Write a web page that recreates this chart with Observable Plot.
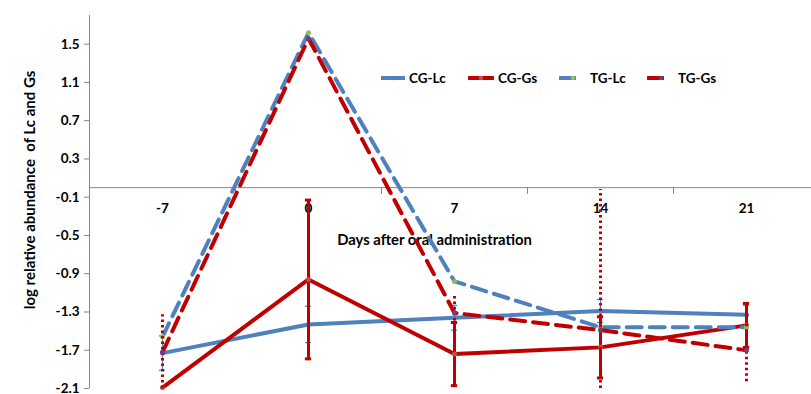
<!DOCTYPE html>
<html><head><meta charset="utf-8">
<script src="https://cdn.jsdelivr.net/npm/d3@7"></script>
<script src="https://cdn.jsdelivr.net/npm/@observablehq/plot@0.6"></script>
<style>
body{margin:0;background:#fff;}
#wrap{position:relative;width:811px;height:394px;font-family:Lato,"Open Sans",sans-serif;}
#wrap svg text{font-weight:bold;}
.leg{position:absolute;top:69px;height:18px;display:flex;align-items:center;font-size:13.5px;font-weight:bold;color:#000;font-family:Lato,"Open Sans",sans-serif;}
.leg svg{margin-right:4px;}
</style></head><body><div id="wrap"></div>
<script>
const days = [-7, 0, 7, 14, 21];
const xTickLabels = ["-7", "0", "7", "14", "21"];
const yTicks = [-2.1, -1.7, -1.3, -0.9, -0.5, -0.1, 0.3, 0.7, 1.1, 1.5];
const seriesNames = ["CG-Lc", "CG-Gs", "TG-Lc", "TG-Gs"];
const cgLc = [-1.73, -1.43, -1.36, -1.29, -1.33];
const cgGs = [-2.09, -0.96, -1.74, -1.67, -1.44];
const tgLc = [-1.56, 1.62, -0.98, -1.46, -1.46];
const tgGs = [-1.72, 1.56, -1.31, -1.49, -1.70];
const cgLcErr = [0.18, 0.19, 0.13, 0.12, 0.10];
const cgGsErr = [0, 0.83, 0.33, 0.32, 0.23];
const tgLcErr = [0, 0, 0, 0, 0];
const tgGsErr = [0.39, 0, 0.20, 1.47, 0.33];

const values = [cgLc, cgGs, tgLc, tgGs];
const errs = [cgLcErr, cgGsErr, tgLcErr, tgGsErr];
const lineColor = ["#4F81BD", "#C00000", "#4F81BD", "#C00000"];
const markColor = ["#4F81BD", "#C0504D", "#9BBB59", "#7A3A7A"];
const dash = [null, null, "15,8", "15,8"];
const errDash = [null, null, null, "2.5,3"];
const yMin = -2.1, yMax = 1.8;
const step = days[1] - days[0];
const xMin = days[0] - step / 2, xMax = days[days.length - 1] + step / 2;
const bounds = d3.pairs(days).map(([a, b]) => (a + b) / 2);

const rows = seriesNames.map((s, k) => days.map((d, i) => ({series: s, k, day: d, value: values[k][i], err: errs[k][i]})));

const marks = [
  Plot.ruleY([0], {stroke: "#868686", strokeWidth: 1}),
  Plot.ruleX([xMin], {y1: yMin, y2: yMax, stroke: "#868686", strokeWidth: 1}),
  Plot.ruleX(bounds, {y1: 0, y2: -0.07, stroke: "#868686"}),
  Plot.axisY({ticks: yTicks, tickFormat: d => d.toFixed(1), tickSize: 5, tickPadding: 5, fontSize: 13.5, label: null, stroke: "#868686", fill: "#000"}),
  Plot.text(days, {x: d => d, y: () => 0, text: (d, i) => xTickLabels[i], dy: 21, fontSize: 13.5, fill: "#000"}),
  Plot.text(["Days after oral administration"], {frameAnchor: "top", dx: -16, dy: 219, fontSize: 14.8, fill: "#000"}),
  Plot.text(["log relative abundance  of Lc and Gs"], {frameAnchor: "left", textAnchor: "middle", rotate: -90, dx: -59, dy: -12, fontSize: 15, fill: "#000"})
];

rows.forEach((r, k) => {
  const withErr = r.filter(d => d.err > 0);
  const lo = d => Math.max(yMin, d.value - d.err);
  const hi = d => Math.min(yMax, d.value + d.err);
  marks.push(Plot.ruleX(withErr, {x: "day", y1: lo, y2: hi, stroke: lineColor[k], strokeWidth: k === 0 ? 1.2 : 3, strokeDasharray: errDash[k]}));
  if (!errDash[k]) {
    marks.push(Plot.ruleY(withErr, {y: lo, x1: d => d.day - 0.15, x2: d => d.day + 0.15, stroke: lineColor[k], strokeWidth: k === 0 ? 1.2 : 3}));
    marks.push(Plot.ruleY(withErr, {y: hi, x1: d => d.day - 0.15, x2: d => d.day + 0.15, stroke: lineColor[k], strokeWidth: k === 0 ? 1.2 : 3}));
  }
  marks.push(Plot.line(r, {x: "day", y: "value", stroke: lineColor[k], strokeWidth: 4, strokeDasharray: dash[k], strokeLinecap: "round", strokeLinejoin: "round"}));
  marks.push(Plot.dot(r, {x: "day", y: "value", r: 2.5, fill: markColor[k], stroke: null}));
});

const chart = Plot.plot({
  width: 811, height: 394,
  marginLeft: 89, marginRight: 0, marginTop: 15, marginBottom: 6,
  x: {domain: [xMin, xMax], range: [89, 819], axis: null},
  y: {domain: [yMin, yMax], axis: null},
  style: {fontFamily: "Lato, 'Open Sans', sans-serif", background: "#fff", overflow: "visible"},
  marks
});
const wrap = document.getElementById("wrap");
wrap.appendChild(chart);

// legend
const legPos = [381, 468, 559, 647];
const legLen = [22, 24, 15, 15];
seriesNames.forEach((s, k) => {
  const div = document.createElement("div");
  div.className = "leg";
  div.style.left = legPos[k] + "px";
  const L = legLen[k];
  div.innerHTML = `<svg width="${L + 2}" height="8"><line x1="1" x2="${L + 1}" y1="4" y2="4" stroke="${lineColor[k]}" stroke-width="4" stroke-linecap="round"/><circle cx="${L / 2 + 1 + (k >= 2 ? L / 2 - 2 : 0)}" cy="4" r="2.3" fill="${markColor[k]}"/></svg><span style="margin-left:${k >= 2 ? 10 : 0}px">${s}</span>`;
  wrap.appendChild(div);
});
</script></body></html>
